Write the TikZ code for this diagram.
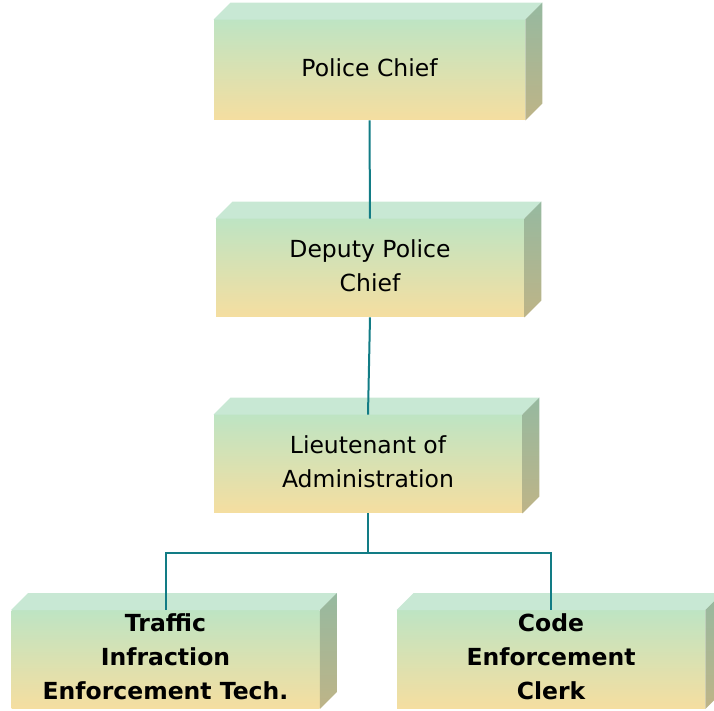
\documentclass[tikz,border=0pt]{standalone}
\usepackage{fontspec}
\setmainfont{DejaVu Sans}
\usetikzlibrary{positioning}

\definecolor{facetop}{HTML}{BEE4C3}
\definecolor{facebot}{HTML}{F5DEA0}
\definecolor{lidcol}{HTML}{C8E8D4}
\definecolor{sidetop}{HTML}{96B9A0}
\definecolor{sidebot}{HTML}{BEB487}
\definecolor{linkcol}{HTML}{127C85}

\tikzset{
  office/.style={rectangle, inner sep=0pt, minimum width=154pt, minimum height=49pt,
    top color=facetop, bottom color=facebot},
  rank/.style={font=\fontsize{11.75}{17}\selectfont, align=center, inner sep=0pt, yshift=1.2pt},
  lid/.style={fill=lidcol},
  side/.style={top color=sidetop, bottom color=sidebot},
  link/.style={draw=linkcol, line width=1pt}
}

% top and right faces of a box
\newcommand{\boxfaces}[1]{%
  \fill[lid] (#1.north west) -- ++(17,-17) -- ([shift={(17,-17)}]#1.north east) -- (#1.north east) -- cycle;
  \shade[side] (#1.north east) -- ++(17,-17) -- ([shift={(17,-17)}]#1.south east) -- (#1.south east) -- cycle;}

\begin{document}
\begin{tikzpicture}[x=0.5pt, y=-0.5pt]
  \useasboundingbox (0,0) rectangle (714,711);

  % the five offices
  \node[office, minimum width=155.5pt, minimum height=50pt,
        label={[rank]center:Police Chief}] (chief) at (369.5,70) {};
  \node[office, label={[rank]center:Deputy Police\\Chief}] (deputy) at (370,268) {};
  \node[office, label={[rank]center:Lieutenant of\\Administration}] (lieut) at (368,464) {};
  \node[office, label={[rank, font=\fontsize{11.75}{17}\selectfont\bfseries]center:Traffic\\Infraction\\Enforcement Tech.}] (traffic) at (165.5,659.5) {};
  \node[office, label={[rank, font=\fontsize{11.75}{17}\selectfont\bfseries]center:Code\\Enforcement\\Clerk}] (clerk) at (551,659.5) {};

  \boxfaces{chief}
  \boxfaces{deputy}
  \boxfaces{lieut}
  \boxfaces{traffic}
  \boxfaces{clerk}

  % chain of command
  \draw[link] (chief.south) -- (deputy.north);
  \draw[link] (deputy.south) -- (lieut.north);
  \coordinate (split) at ([yshift=-20pt]lieut.south);
  \draw[link] (lieut.south) -- (split) -| (traffic.north);
  \draw[link] (split) -| (clerk.north);
\end{tikzpicture}
\end{document}
